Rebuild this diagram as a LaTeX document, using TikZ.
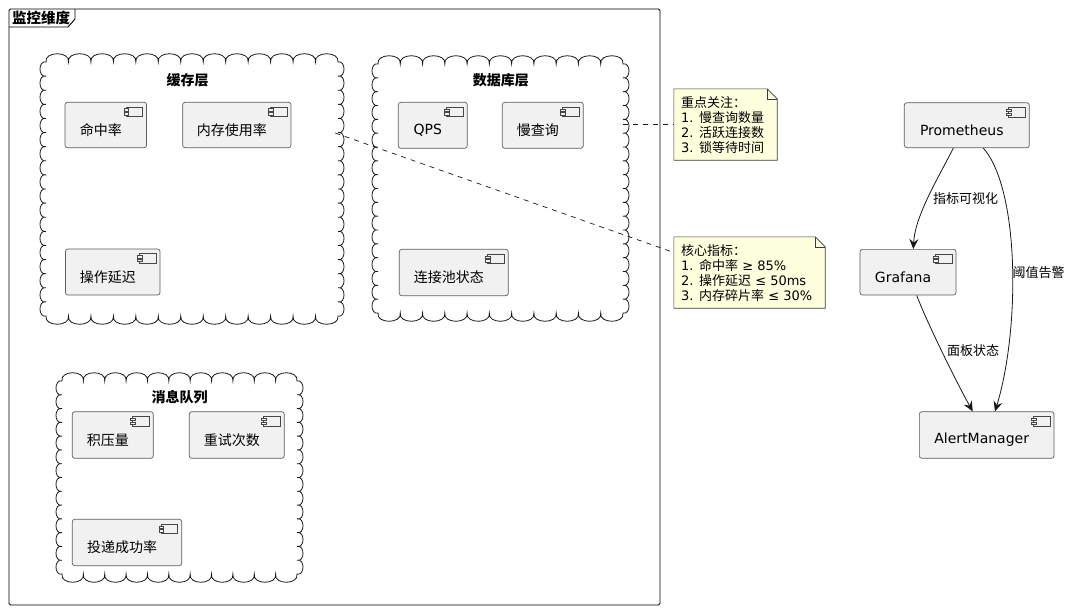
\documentclass[tikz,border=0pt]{standalone}
\usepackage{fontspec}
\setmainfont{DejaVu Sans}
\newfontfamily\cjk{Noto Sans CJK SC}
\usetikzlibrary{arrows.meta}
\definecolor{compfill}{HTML}{F1F1F1}
\definecolor{lncol}{HTML}{181818}
\definecolor{notefill}{HTML}{FEFFDD}
\newcommand\zh[1]{{\cjk #1}}
\newcommand\cloudpath[4]{%
  \pgfmathtruncatemacro\cnh{max(1,round((#3-#1)/22))}%
  \pgfmathsetmacro\cdh{(#3-#1)/\cnh}%
  \pgfmathtruncatemacro\cnv{max(1,round((#4-#2)/14))}%
  \pgfmathsetmacro\cdv{(#4-#2)/\cnv}%
  \draw[cloudline] (#1,#2)
    \foreach \i in {1,...,\cnh}{ .. controls +(-2,-11) and +(2,-11) .. ++(\cdh,0) }
    \foreach \i in {1,...,\cnv}{ .. controls +(8,-2) and +(8,2) .. ++(0,\cdv) }
    \foreach \i in {1,...,\cnh}{ .. controls +(2,11) and +(-2,11) .. ++(-\cdh,0) }
    \foreach \i in {1,...,\cnv}{ .. controls +(-8,2) and +(-8,-2) .. ++(0,-\cdv) }
    -- cycle;
}
\newcommand\comp[6]{%
  \node[compbox, minimum width=#4pt, minimum height=#5pt] (#1) at (#2,#3) {};
  \node[comptext] (#1-t) at ([shift={(-5,5)}]#1.center) {#6};
  \draw[iconline, fill=compfill] ([shift={(-21,5)}]#1.north east) rectangle ([shift={(-4.5,14.5)}]#1.north east);
  \draw[iconline, fill=compfill] ([shift={(-23,6.8)}]#1.north east) rectangle ([shift={(-18.5,9.2)}]#1.north east);
  \draw[iconline, fill=compfill] ([shift={(-23,10.6)}]#1.north east) rectangle ([shift={(-18.5,13)}]#1.north east);
}
\begin{document}
\begin{tikzpicture}[x=1pt,y=-1pt,
  compbox/.style={draw=lncol!70, fill=compfill, rounded corners=2.5pt, line width=0.7pt, inner sep=0pt},
  comptext/.style={font=\fontsize{14}{16}\selectfont, inner sep=0pt, text=black},
  iconline/.style={draw=lncol!80, line width=0.5pt},
  cloudline/.style={draw=lncol, line width=0.8pt},
  cloudtitle/.style={font=\fontsize{14}{16}\selectfont\cjk\bfseries, inner sep=0pt},
  notebox/.style={draw=none, inner sep=0pt},
  noteline/.style={draw=lncol!85, fill=notefill, line width=0.6pt},
  notetext/.style={font=\fontsize{13}{15}\selectfont, align=left, inner sep=0pt, anchor=north west},
  dashline/.style={draw=lncol, line width=0.7pt, dash pattern=on 5pt off 5pt},
  arrowline/.style={draw=lncol, line width=0.8pt, -{Stealth[length=10pt,width=9pt,inset=3.5pt]}},
  arrlabel/.style={font=\fontsize{13}{15}\selectfont\cjk, inner sep=0pt},
  placeholder/.style={draw=none, inner sep=0pt}
]
\useasboundingbox (0,0) rectangle (1074,611);
\fill[white] (0,0) rectangle (1074,611);

% frame
\node[draw=black, line width=0.9pt, rounded corners=1.5pt, minimum width=651pt, minimum height=596pt, inner sep=0pt] (frame) at (334.5,307) {};
\draw[black, line width=0.9pt] (75,9) -- (75,19) -- (68,27) -- (9,27);
\node[font=\fontsize{14.5}{16}\selectfont\cjk\bfseries, inner sep=0pt, anchor=west] (ftitle) at (12,17.5) {监控维度};

% clouds
\node[placeholder, minimum width=292pt, minimum height=254pt] (cache) at (192,189) {};
\cloudpath{46}{62}{338}{316}
\node[cloudtitle] (cache-t) at (187.5,80) {缓存层};
\node[placeholder, minimum width=245pt, minimum height=249pt] (db) at (500.5,188.5) {};
\cloudpath{378}{64}{623}{313}
\node[cloudtitle] (db-t) at (500.8,80.5) {数据库层};
\node[placeholder, minimum width=235pt, minimum height=193pt] (msg) at (179.5,477.5) {};
\cloudpath{62}{381}{297}{574}
\node[cloudtitle] (msg-t) at (179.7,397) {消息队列};

% components
\comp{hit}{105.8}{125}{81.5}{45.5}{\zh{命中率}}
\comp{mem}{236.8}{125}{108.3}{45.5}{\zh{内存使用率}}
\comp{lat}{112.8}{272}{94.5}{46}{\zh{操作延迟}}
\comp{qps}{432.8}{125.3}{69}{46}{QPS}
\comp{slow}{542.8}{125.3}{81}{46}{\zh{慢查询}}
\comp{pool}{453.8}{272.5}{109}{46.4}{\zh{连接池状态}}
\comp{backlog}{112.8}{435}{81}{46.6}{\zh{积压量}}
\comp{retry}{236.8}{435}{95}{46.6}{\zh{重试次数}}
\comp{deliv}{127}{542.5}{109.4}{46.4}{\zh{投递成功率}}
\comp{prom}{966.8}{125.2}{125}{45}{Prometheus}
\comp{graf}{908}{272.2}{96}{45.7}{Grafana}
\comp{alert}{986.7}{435}{134.7}{46.6}{AlertManager}

% notes
\node[notebox, minimum width=103pt, minimum height=71pt] (n1) at (725.5,124.5) {};
\path[noteline] (n1.north west) -- ([shift={(-10,0)}]n1.north east) -- ([shift={(0,10)}]n1.north east) -- (n1.south east) -- (n1.south west) -- cycle;
\draw[lncol!85, line width=0.6pt] ([shift={(-10,0)}]n1.north east) -- ([shift={(-10,10)}]n1.north east) -- ([shift={(0,10)}]n1.north east);
\node[notetext] (n1-t) at (681,96.5) {\zh{重点关注：}\\1. \zh{慢查询数量}\\2. \zh{活跃连接数}\\3. \zh{锁等待时间}};

\node[notebox, minimum width=151pt, minimum height=71pt] (n2) at (749.5,272.5) {};
\path[noteline] (n2.north west) -- ([shift={(-10,0)}]n2.north east) -- ([shift={(0,10)}]n2.north east) -- (n2.south east) -- (n2.south west) -- cycle;
\draw[lncol!85, line width=0.6pt] ([shift={(-10,0)}]n2.north east) -- ([shift={(-10,10)}]n2.north east) -- ([shift={(0,10)}]n2.north east);
\node[notetext] (n2-t) at (681,244) {\zh{核心指标：}\\1. \zh{命中率} ≥ 85\%\\2. \zh{操作延迟} ≤ 50ms\\3. \zh{内存碎片率} ≤ 30\%};

% dashed note links
\draw[dashline] ([shift={(-3,-56)}]cache.east) -- ([shift={(0,-20)}]n2.west);
\draw[dashline] (db.east |- n1.west) -- (n1.west);

% arrows
\draw[arrowline] ([shift={(-13.5,0)}]prom.south) .. controls (940,175) and (915,215) .. ([shift={(5.3,0)}]graf.north);
\draw[arrowline] ([shift={(16.5,0)}]prom.south) .. controls (1020,190) and (1020,330) .. ([shift={(8.3,0)}]alert.north);
\draw[arrowline] ([shift={(8.7,0)}]graf.south) .. controls (928,325) and (958,385) .. ([shift={(-14,0)}]alert.north);
\node[arrlabel] (l1) at (965.5,199) {指标可视化};
\node[arrlabel] (l2) at (1038.5,272.5) {阈值告警};
\node[arrlabel] (l3) at (973,351) {面板状态};
\end{tikzpicture}
\end{document}
